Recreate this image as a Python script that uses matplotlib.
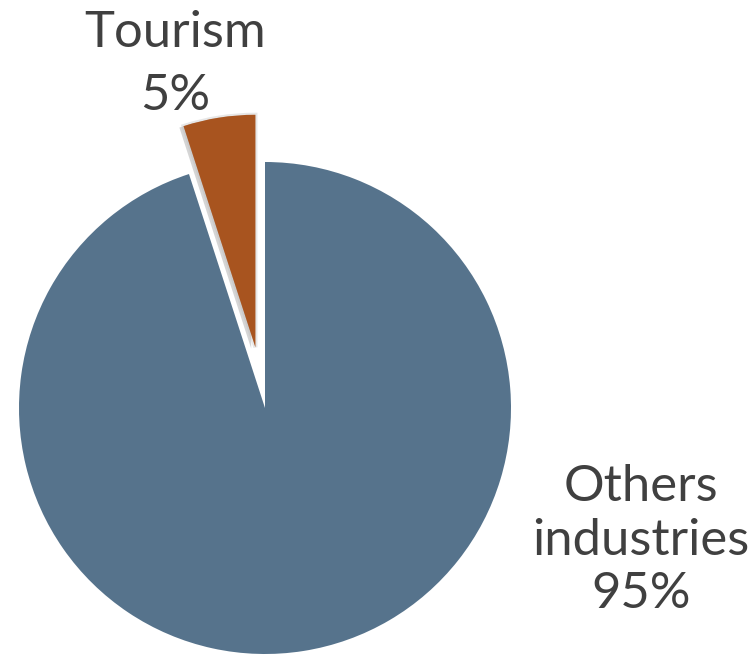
import matplotlib
matplotlib.use("Agg")
import matplotlib.pyplot as plt
import matplotlib.patheffects as pe

categories = ["Others\nindustries", "Tourism"]
values = [95, 5]
colors = ["#56738c", "#a8541f"]

W, H = 751, 662
fig = plt.figure(figsize=(W / 100, H / 100), dpi=100)
ax = fig.add_axes([0, 0, 1, 1])

R = 246.0
cx, cy = 265.0, 408.0

def px2d(x, y):
    return (x - cx) / R, (cy - y) / R

wedges, _ = ax.pie(values, colors=colors, startangle=90, counterclock=False,
                   explode=[0, 0.25], radius=1.0, center=(0, 0), frame=True)
ax.set_xlim((0 - cx) / R, (W - cx) / R)
ax.set_ylim((cy - H) / R, (cy - 0) / R)
ax.set_aspect("auto")
ax.axis("off")
wedges[1].set_radius(0.945)
wedges[1].set_path_effects([
    pe.SimplePatchShadow(offset=(-3, -1), shadow_rgbFace="#777777", alpha=0.3),
    pe.Stroke(linewidth=3, foreground="#bbbbbb", alpha=0.35),
    pe.Normal()])

font = dict(family=["Lato", "DejaVu Sans"], color="#404040", fontsize=36.5)

x, y = px2d(175, 110)
ax.text(x, y, f"{categories[1]}\n{values[1]}%", ha="center", va="baseline",
        linespacing=1.45, **font)
x, y = px2d(641, 608)
ax.text(x, y, f"{categories[0]}\n{values[0]}%", ha="center", va="baseline",
        linespacing=1.2, **font)

fig.savefig("out.png", dpi=100)
